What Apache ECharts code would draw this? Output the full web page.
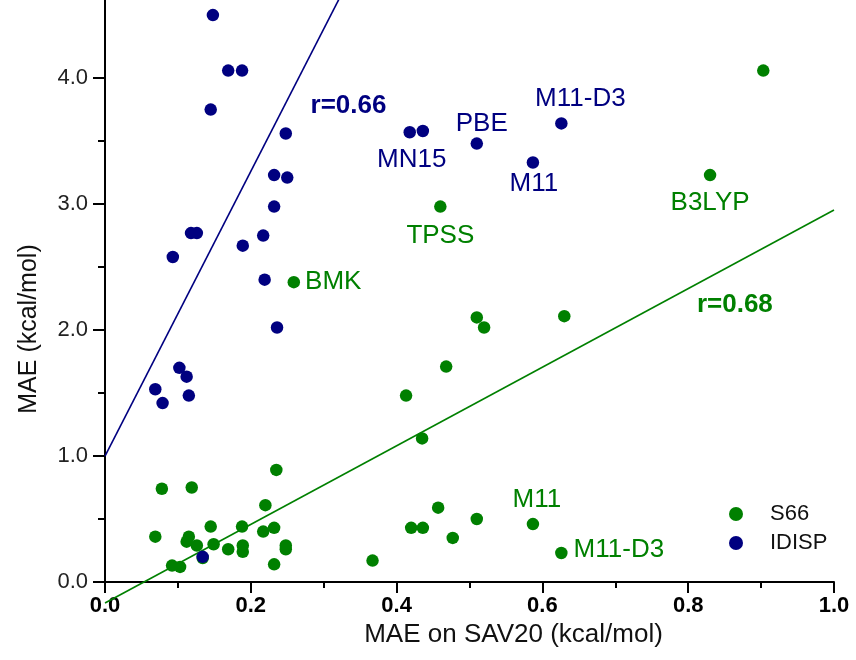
<!DOCTYPE html>
<html>
<head>
<meta charset="utf-8">
<script src="https://cdn.jsdelivr.net/npm/echarts@6/dist/echarts.min.js"></script>
<style>html,body{margin:0;padding:0;background:#fff}#c{width:856px;height:660px}</style>
</head>
<body>
<div id="c"></div>
<script>
// ---- data ----
const s66X = [0.903,0.830,0.460,0.259,0.510,0.520,0.630,0.468,0.413,0.435,0.457,0.420,0.436,0.477,0.510,0.587,0.626,0.367,
  0.078,0.119,0.235,0.220,0.069,0.115,0.112,0.126,0.145,0.149,0.169,0.188,0.189,0.189,0.217,0.232,0.248,0.248,0.232,0.134,0.092,0.103];
const s66Y = [4.06,3.23,2.98,2.38,2.10,2.02,2.11,1.71,1.48,1.14,0.59,0.43,0.43,0.35,0.50,0.46,0.23,0.17,
  0.74,0.75,0.89,0.61,0.36,0.36,0.32,0.29,0.44,0.30,0.26,0.44,0.29,0.24,0.40,0.43,0.29,0.26,0.14,0.19,0.13,0.12];
const s66Names = ['','B3LYP','TPSS','BMK','','','','','','','','','','','','M11','M11-D3',''];

const idispX = [0.148,0.169,0.188,0.145,0.248,0.232,0.250,0.232,0.118,0.126,0.189,0.217,0.093,0.219,0.236,0.102,0.112,0.069,0.079,0.115,0.134,
  0.418,0.436,0.510,0.626,0.587];
const idispY = [4.50,4.06,4.06,3.75,3.56,3.23,3.21,2.98,2.77,2.77,2.67,2.75,2.58,2.40,2.02,1.70,1.63,1.53,1.42,1.48,0.20,
  3.57,3.58,3.48,3.64,3.33];
const idispNames = ['','','','','','','','','','','','','','','','','','','','','','MN15','','PBE','M11-D3','M11'];

const s66Fit = {intercept: -0.167, slope: 3.12, r: 'r=0.68'};
const idispFit = {intercept: 1.0, slope: 11.3, r: 'r=0.66'};
const annX = [0.334, 0.864];
const annY = [3.78, 2.20];

const xTicks = [0, 0.2, 0.4, 0.6, 0.8, 1.0];
const yTicks = [0, 1, 2, 3, 4];
const yMinorTicks = [0.5, 1.5, 2.5, 3.5];

// ---- styles ----
const GREEN = '#008000', NAVY = '#000080';
const FONT = '"Liberation Sans", Arial, sans-serif';
const labelPos = {
  'B3LYP': {position: 'bottom', offset: [0, 3]},
  'TPSS': {position: 'bottom', offset: [0, 5]},
  'BMK': {position: 'right', offset: [0, 0]},
  'M11|s': {position: 'top', offset: [4, 0]},
  'M11-D3|s': {position: 'right', offset: [1, -3]},
  'MN15': {position: 'bottom', offset: [2, 3]},
  'PBE': {position: 'top', offset: [5, 4]},
  'M11-D3|i': {position: 'top', offset: [19, 0]},
  'M11|i': {position: 'bottom', offset: [1, -3]}
};
function pts(xs, ys, names, tag, color) {
  return xs.map((x, i) => {
    const d = {value: [x, ys[i]]};
    const n = names[i];
    if (n) {
      const p = labelPos[n + '|' + tag] || labelPos[n];
      d.label = {show: true, formatter: n, position: p.position, offset: p.offset,
        color: color, fontSize: 26, fontFamily: FONT};
    }
    return d;
  });
}
function fitLine(f, x0, x1) {
  return [[x0, f.intercept + f.slope * x0], [x1, f.intercept + f.slope * x1]];
}
const annLabel = (text, color) => ({show: true, position: 'inside', formatter: text, color: color,
  fontSize: 26, fontWeight: 'bold', fontFamily: FONT, textBorderWidth: 0, textBorderColor: 'transparent', opacity: 1});

const chart = echarts.init(document.getElementById('c'), null, {renderer: 'canvas'});
chart.setOption({
  animation: false,
  backgroundColor: '#fff',
  grid: {left: 105, right: 22, top: 0, bottom: 78, containLabel: false},
  xAxis: {
    type: 'value', min: 0, max: 1.0, interval: 0.2,
    name: 'MAE on SAV20 (kcal/mol)', nameLocation: 'middle', nameGap: 40,
    nameTextStyle: {fontSize: 26, color: '#111', fontFamily: FONT, padding: [0, 0, 0, 88]},
    axisLine: {onZero: false, lineStyle: {color: '#000', width: 2}},
    axisTick: {length: 11, lineStyle: {color: '#000', width: 2}},
    minorTick: {show: true, splitNumber: 2, length: 6, lineStyle: {color: '#000', width: 2}},
    splitLine: {show: false}, minorSplitLine: {show: false},
    axisLabel: {margin: 13, fontSize: 22, fontWeight: 'bold', color: '#000', fontFamily: FONT,
      formatter: v => xTicks.some(t => Math.abs(t - v) < 1e-9) ? v.toFixed(1) : ''}
  },
  yAxis: [{
    type: 'value', min: 0, max: 4.62, interval: 1,
    name: 'MAE (kcal/mol)', nameLocation: 'middle', nameGap: 63,
    nameTextStyle: {fontSize: 25, color: '#111', fontFamily: FONT, padding: [0, 76, 0, 0]},
    axisLine: {onZero: false, lineStyle: {color: '#000', width: 2}},
    axisTick: {length: 12, customValues: yTicks, lineStyle: {color: '#000', width: 2}},
    splitLine: {show: false},
    axisLabel: {margin: 17, fontSize: 22, color: '#222', fontFamily: FONT, customValues: yTicks,
      formatter: v => v.toFixed(1)}
  }, {
    type: 'value', min: 0, max: 4.62, position: 'left', offset: 0,
    axisLine: {show: false},
    axisTick: {show: true, length: 7, customValues: yMinorTicks, lineStyle: {color: '#000', width: 2}},
    axisLabel: {show: false}, splitLine: {show: false}
  }],
  legend: {
    orient: 'vertical', left: 724, top: 498, itemWidth: 14, itemHeight: 14, itemGap: 7,
    icon: 'circle',
    textStyle: {fontSize: 22, lineHeight: 22, color: '#111', fontFamily: FONT, padding: [0, 0, 0, 22]},
    data: ['S66', 'IDISP']
  },
  series: [
    {type: 'line', data: fitLine(s66Fit, 0, 1.0), symbol: 'none', clip: false, silent: true,
      lineStyle: {color: GREEN, width: 1.6}, z: 1},
    {type: 'line', data: fitLine(idispFit, 0, 0.4), symbol: 'none', clip: true, silent: true,
      lineStyle: {color: NAVY, width: 1.6}, z: 1},
    {name: 'S66', type: 'scatter', symbolSize: 12.5, itemStyle: {color: GREEN, opacity: 1},
      data: pts(s66X, s66Y, s66Names, 's', GREEN), z: 2},
    {name: 'IDISP', type: 'scatter', symbolSize: 12.5, itemStyle: {color: NAVY, opacity: 1},
      data: pts(idispX, idispY, idispNames, 'i', NAVY), z: 3},
    {type: 'scatter', symbolSize: 0, silent: true, z: 4, itemStyle: {color: 'transparent'},
      data: [
        {value: [annX[0], annY[0]], label: annLabel(idispFit.r, NAVY)},
        {value: [annX[1], annY[1]], label: annLabel(s66Fit.r, GREEN)}
      ]}
  ]
});
</script>
</body>
</html>
